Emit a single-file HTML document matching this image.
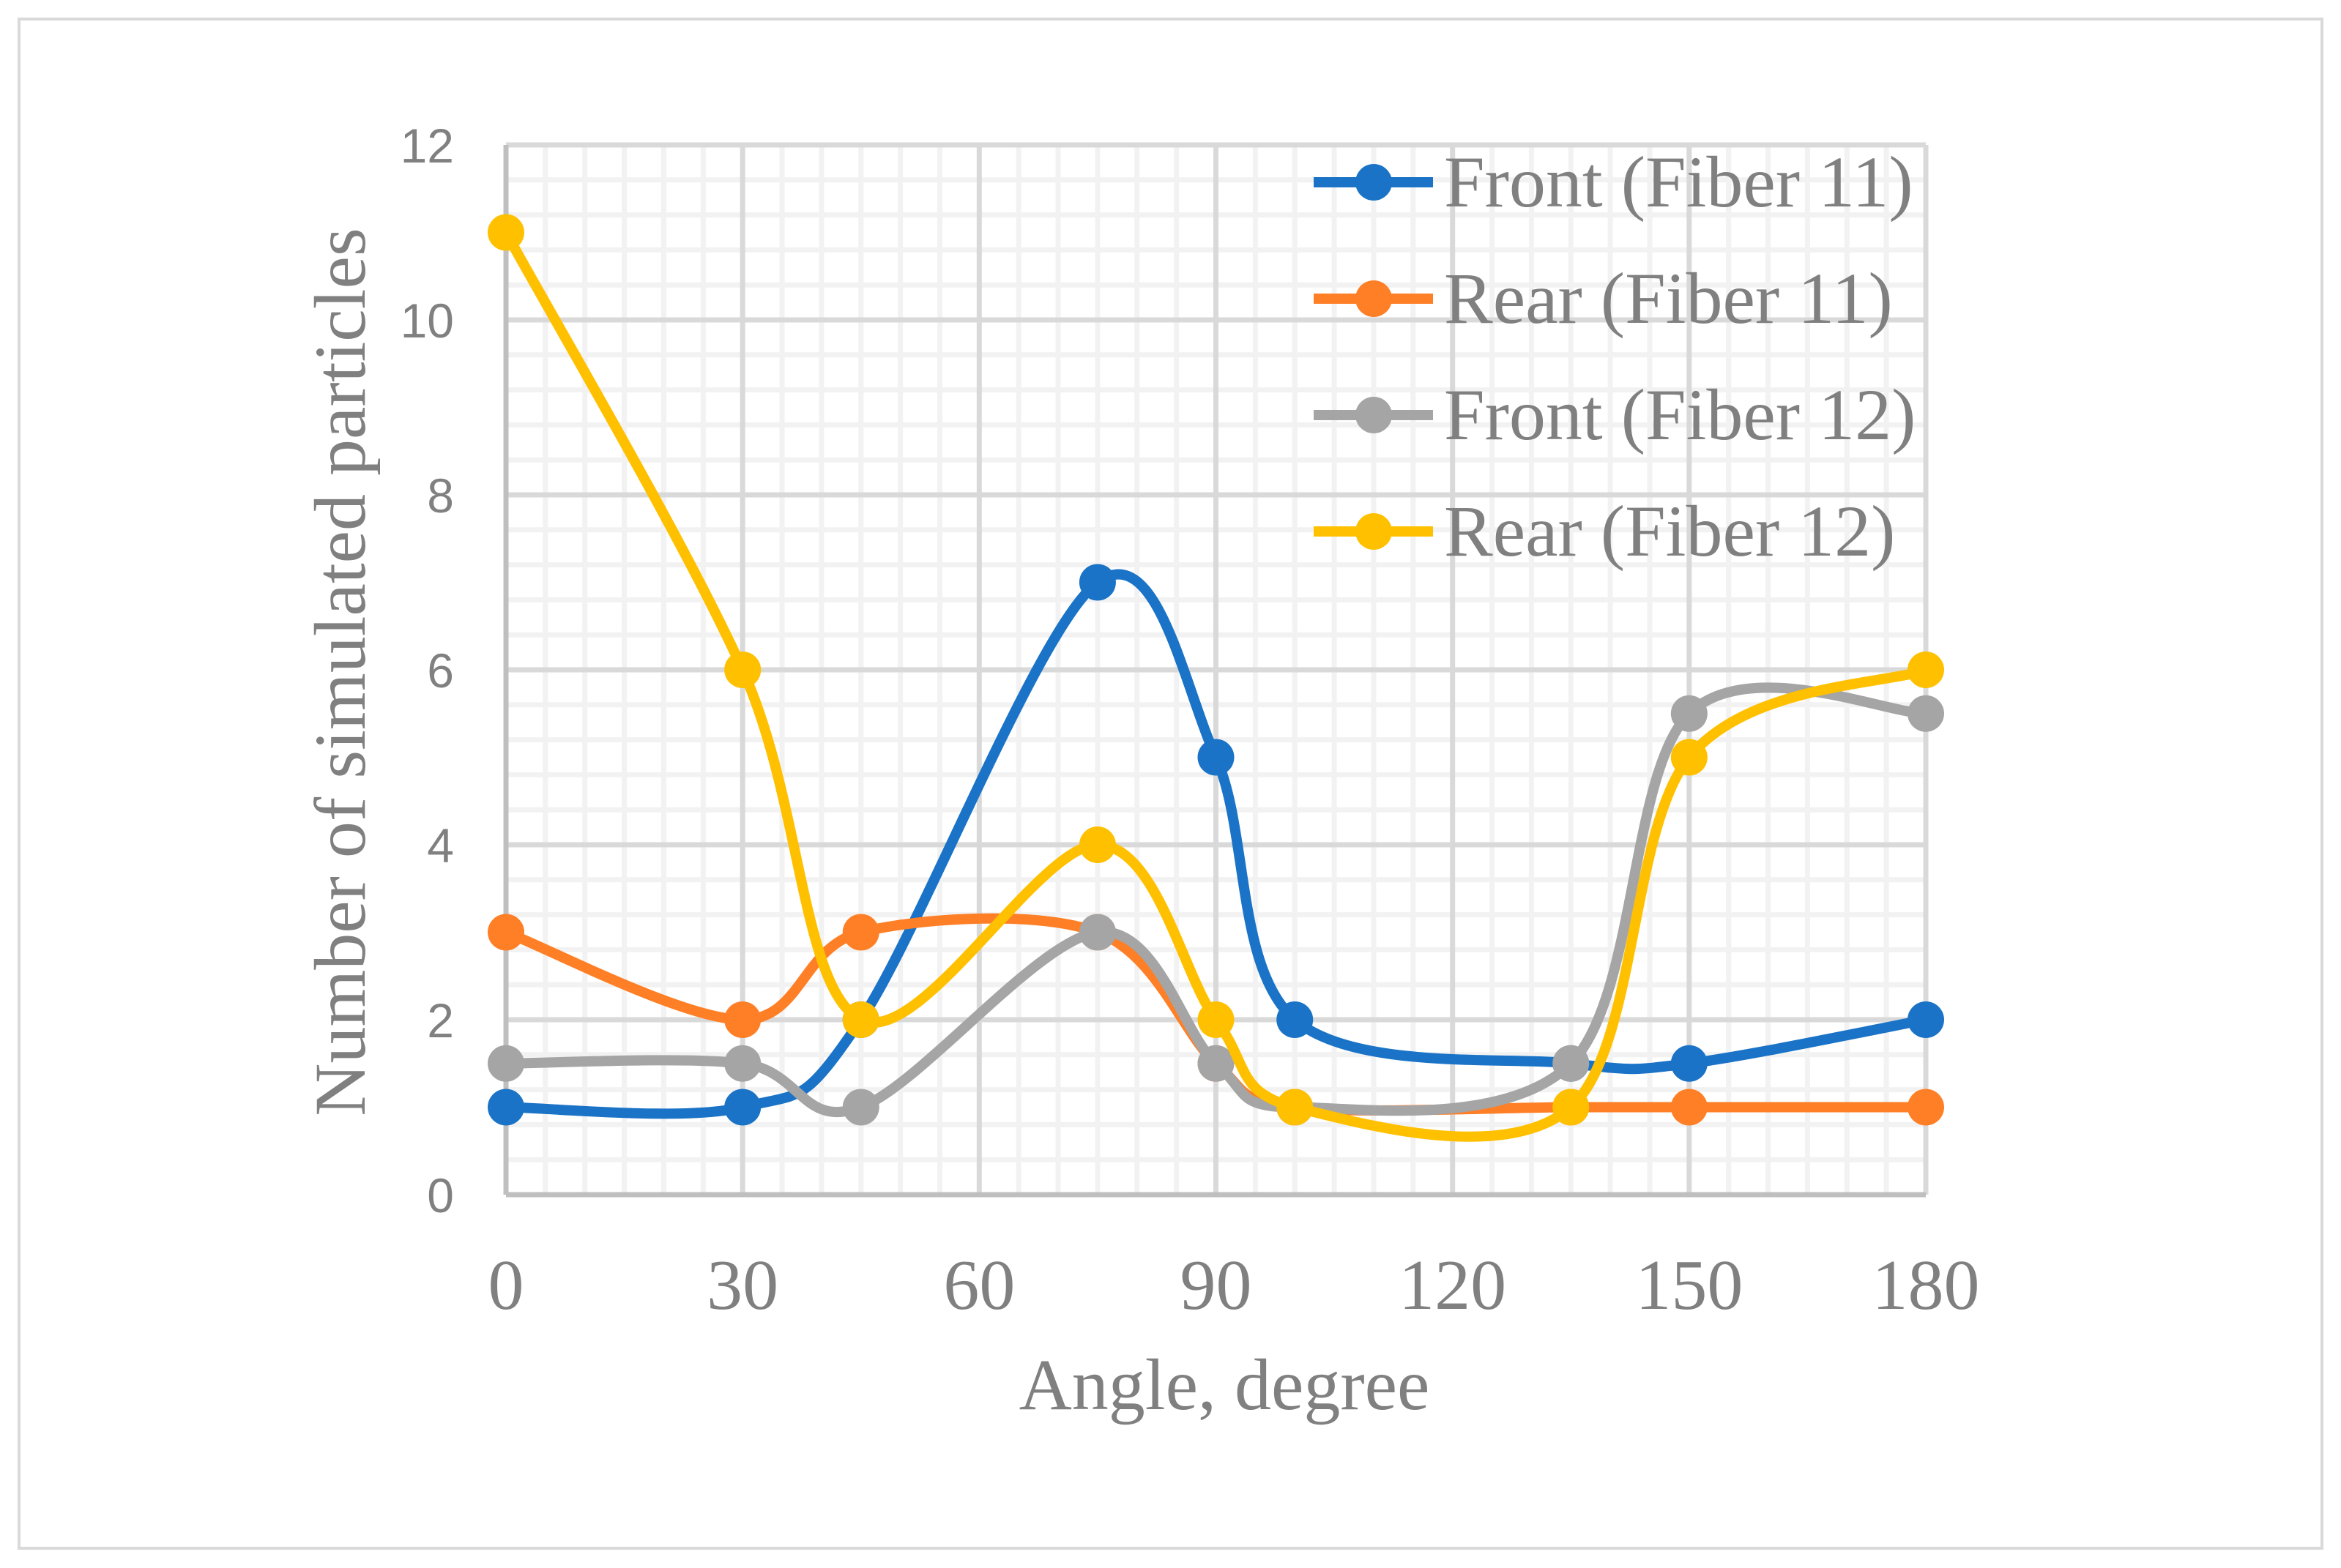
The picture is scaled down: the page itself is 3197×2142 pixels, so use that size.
<!DOCTYPE html>
<html><head><meta charset="utf-8">
<style>
html,body{margin:0;padding:0;background:#fff;}
svg{display:block;}
</style></head>
<body>
<svg id="chart" width="3197" height="2142" viewBox="0 0 3197 2142" xmlns="http://www.w3.org/2000/svg">
<rect x="26" y="26" width="3145" height="2089" fill="#fff" stroke="#d9d9d9" stroke-width="4"/>
<g id="grid"></g>
<g id="axes"></g>
<g id="series"></g>
<g id="legend"></g>
<text x="1672" y="1925" text-anchor="middle" font-family="Liberation Serif, serif" font-size="100" fill="#808080">Angle, degree</text>
<text transform="translate(498,918) rotate(-90)" text-anchor="middle" font-family="Liberation Serif, serif" font-size="100" fill="#808080">Number of simulated particles</text>
</svg>
<script>
const angles = [0, 30, 45, 75, 90, 100, 135, 150, 180];
const frontFiber11 = [1, 1, 2, 7, 5, 2, 1.5, 1.5, 2];
const rearFiber11 = [3, 2, 3, 3, 1.5, 1, 1, 1, 1];
const frontFiber12 = [1.5, 1.5, 1, 3, 1.5, 1, 1.5, 5.5, 5.5];
const rearFiber12 = [11, 6, 2, 4, 2, 1, 1, 5, 6];
const seriesNames = ["Front (Fiber 11)", "Rear (Fiber 11)", "Front (Fiber 12)", "Rear (Fiber 12)"];
const xTicks = [0, 30, 60, 90, 120, 150, 180];
const yTicks = [0, 2, 4, 6, 8, 10, 12];

const NS = "http://www.w3.org/2000/svg";
const X0 = 691, X1 = 2630, Y0 = 1632, Y1 = 198;
const xS = v => X0 + (v - 0) / 180 * (X1 - X0);
const yS = v => Y0 - v / 12 * (Y0 - Y1);
function mk(tag, attrs, parent) {
  const e = document.createElementNS(NS, tag);
  for (const k in attrs) e.setAttribute(k, attrs[k]);
  parent.appendChild(e);
  return e;
}
const grid = document.getElementById('grid');
for (let a = 0; a <= 180; a += 5) {
  if (a % 30 === 0) continue;
  const l = mk('line', {x1: xS(a), x2: xS(a), y1: Y1, y2: Y0, stroke: '#f2f2f2', 'stroke-width': 7}, grid);
  
  
}
for (let i = 1; i < 30; i++) {
  const v = i * 0.4;
  if (i % 5 === 0) continue;
  const l = mk('line', {x1: X0, x2: X1, y1: yS(v), y2: yS(v), stroke: '#f2f2f2', 'stroke-width': 7}, grid);
  
  
}
xTicks.forEach(t => {
  if (t === 0) return;
  const l = mk('line', {x1: xS(t), x2: xS(t), y1: Y1, y2: Y0, stroke: '#d9d9d9', 'stroke-width': 7}, grid);
  
  
});
yTicks.forEach(t => {
  if (t === 0) return;
  const l = mk('line', {x1: X0, x2: X1, y1: yS(t), y2: yS(t), stroke: '#d9d9d9', 'stroke-width': 7}, grid);
  
  
});
const axes = document.getElementById('axes');
const ya = mk('line', {x1: X0, x2: X0, y1: Y1, y2: Y0, stroke: '#bfbfbf', 'stroke-width': 7}, axes);


const xa = mk('line', {x1: X0, x2: X1, y1: Y0, y2: Y0, stroke: '#bfbfbf', 'stroke-width': 7}, axes);


xTicks.forEach(t => {
  const tx = mk('text', {x: xS(t), y: 1788, 'text-anchor': 'middle', 'font-family': 'Liberation Serif, serif', 'font-size': 98, fill: '#808080'}, axes);
  tx.textContent = t;
  
  
});
yTicks.forEach(t => {
  const tx = mk('text', {x: 620, y: yS(t) + 24, 'text-anchor': 'end', 'font-family': 'Liberation Sans, sans-serif', 'font-size': 66, fill: '#808080'}, axes);
  tx.textContent = t;
  
  
});

function smoothPath(pts) {
  let d = `M${pts[0][0]},${pts[0][1]}`;
  for (let i = 0; i < pts.length - 1; i++) {
    const p0 = pts[Math.max(0, i - 1)], p1 = pts[i], p2 = pts[i + 1], p3 = pts[Math.min(pts.length - 1, i + 2)];
    const c1 = [p1[0] + (p2[0] - p0[0]) / 6, p1[1] + (p2[1] - p0[1]) / 6];
    const c2 = [p2[0] - (p3[0] - p1[0]) / 6, p2[1] - (p3[1] - p1[1]) / 6];
    d += ` C${c1[0]},${c1[1]} ${c2[0]},${c2[1]} ${p2[0]},${p2[1]}`;
  }
  return d;
}
const allSeries = [frontFiber11, rearFiber11, frontFiber12, rearFiber12];
const colors = ['#1a73c6', '#fe7f26', '#a5a5a5', '#ffc000'];
const keys = ['front-fiber-11', 'rear-fiber-11', 'front-fiber-12', 'rear-fiber-12'];
const sg = document.getElementById('series');
allSeries.forEach((vals, si) => {
  const g = mk('g', {}, sg);
  
  
  const pts = angles.map((a, i) => [xS(a), yS(vals[i])]);
  const p = mk('path', {d: smoothPath(pts), fill: 'none', stroke: colors[si], 'stroke-width': 14, 'stroke-linejoin': 'round'}, g);
  
  
  pts.forEach(pt => {
    const c = mk('circle', {cx: pt[0], cy: pt[1], r: 25, fill: colors[si]}, g);
    
    
  });
});
const lg = document.getElementById('legend');
seriesNames.forEach((n, i) => {
  const y = 249 + i * 159;
  const g = mk('g', {}, lg);
  
  
  mk('line', {x1: 1794, x2: 1957, y1: y, y2: y, stroke: colors[i], 'stroke-width': 14}, g);
  mk('circle', {cx: 1876, cy: y, r: 25, fill: colors[i]}, g);
  const t = mk('text', {x: 1972, y: y + 33, 'font-family': 'Liberation Serif, serif', 'font-size': 100, fill: '#808080'}, g);
  t.textContent = n;
  
  
});
</script>
</body></html>
